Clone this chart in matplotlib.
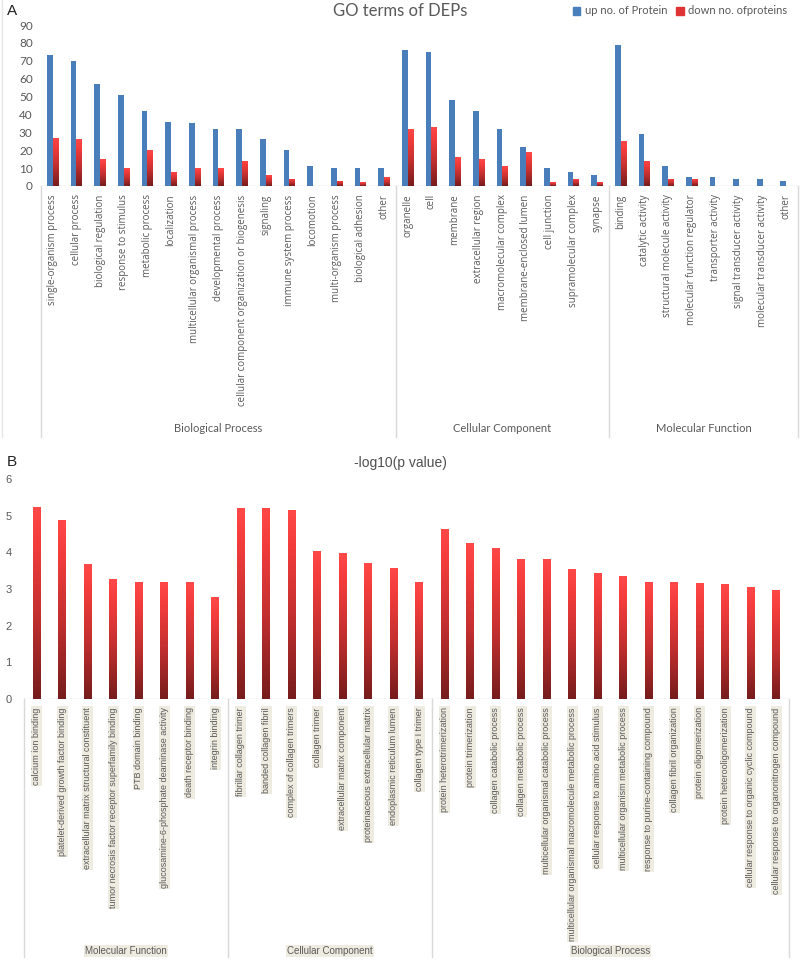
import matplotlib
matplotlib.use('Agg')

import numpy as np
import matplotlib.pyplot as plt
from matplotlib.colors import LinearSegmentedColormap
from matplotlib.transforms import blended_transform_factory
from matplotlib.lines import Line2D

# ---- Panel A data: GO terms of DEPs ----
bp_terms = ['single-organism process', 'cellular process', 'biological regulation',
            'response to stimulus', 'metabolic process', 'localization',
            'multicellular organismal process', 'developmental process',
            'cellular component organization or biogenesis', 'signaling',
            'immune system process', 'locomotion', 'multi-organism process',
            'biological adhesion', 'other']
bp_up = [73, 70, 57, 51, 42, 36, 35, 32, 32, 26, 20, 11, 10, 10, 10]
bp_down = [27, 26, 15, 10, 20, 8, 10, 10, 14, 6, 4, 0, 3, 2, 5]

cc_terms = ['organelle', 'cell', 'membrane', 'extracellular region',
            'macromolecular complex', 'membrane-enclosed lumen', 'cell junction',
            'supramolecular complex', 'synapse']
cc_up = [76, 75, 48, 42, 32, 22, 10, 8, 6]
cc_down = [32, 33, 16, 15, 11, 19, 2, 4, 2]

mf_terms = ['binding', 'catalytic activity', 'structural molecule activity',
            'molecular function regulator', 'transporter activity',
            'signal transducer activity', 'molecular transducer activity', 'other']
mf_up = [79, 29, 11, 5, 5, 4, 4, 3]
mf_down = [25, 14, 4, 4, 0, 0, 0, 0]

groups_a = ['Biological Process', 'Cellular Component', 'Molecular Function']

# ---- Panel B data: -log10(p value) ----
b_mf_terms = ['calcium ion binding', 'platelet-derived growth factor binding',
              'extracellular matrix structural constituent',
              'tumor necrosis factor receptor superfamily binding', 'PTB domain binding',
              'glucosamine-6-phosphate deaminase activity', 'death receptor binding',
              'integrin binding']
b_mf_vals = [5.25, 4.88, 3.68, 3.28, 3.19, 3.19, 3.19, 2.78]

b_cc_terms = ['fibrillar collagen trimer', 'banded collagen fibril',
              'complex of collagen trimers', 'collagen trimer',
              'extracellular matrix component', 'proteinaceous extracellular matrix',
              'endoplasmic reticulum lumen', 'collagen type I trimer']
b_cc_vals = [5.22, 5.22, 5.15, 4.04, 3.97, 3.71, 3.58, 3.18]

b_bp_terms = ['protein heterotrimerization', 'protein trimerization',
              'collagen catabolic process', 'collagen metabolic process',
              'multicellular organismal catabolic process',
              'multicellular organismal macromolecule metabolic process',
              'cellular response to amino acid stimulus',
              'multicellular organism metabolic process',
              'response to purine-containing compound', 'collagen fibril organization',
              'protein oligomerization', 'protein heterooligomerization',
              'cellular response to organic cyclic compound',
              'cellular response to organonitrogen compound']
b_bp_vals = [4.64, 4.25, 4.13, 3.82, 3.82, 3.54, 3.43, 3.35, 3.19, 3.18, 3.16, 3.13,
             3.05, 2.96]

groups_b = ['Molecular Function', 'Cellular Component', 'Biological Process']

W, H = 800, 964
BLUE = '#4A7EBB'
TEXT = '#595959'
LINE = '#D9D9D9'
BEIGE = '#EEECE1'
FONT_A = 'Lato'
FONT_A_TICK = 'Open Sans'
FONT_B = 'Liberation Sans'

red_cmap = LinearSegmentedColormap.from_list(
    'redgrad', [(0, '#761c1c'), (0.45, '#c53030'), (0.8, '#f23c3c'), (1, '#ff4848')])
grad = np.linspace(0, 1, 256).reshape(-1, 1)


def px_axes(fig, left, top, right, bottom):
    """Add axes from pixel box (top-left origin)."""
    return fig.add_axes([left / W, 1 - bottom / H, (right - left) / W, (bottom - top) / H])


def gradient_bars(ax, xs, heights, width):
    bars = ax.bar(xs, heights, width, color='none', edgecolor='none', zorder=2)
    for bar in bars:
        h = bar.get_height()
        if h <= 0:
            continue
        x0 = bar.get_x()
        im = ax.imshow(grad, extent=[x0, x0 + width, 0, h], origin='lower',
                       aspect='auto', cmap=red_cmap, zorder=3, interpolation='bilinear')
        im.set_clip_path(bar)


def group_decor(ax, sizes, names, y_bottom, y_label, font, fontsize, label_bg=None):
    trans = blended_transform_factory(ax.transData, ax.transAxes)
    edges = np.concatenate([[0], np.cumsum(sizes)]) - 0.5
    for e in edges:
        ax.add_line(Line2D([e, e], [0, y_bottom], transform=trans, color=LINE,
                           lw=1.0, clip_on=False))
    for k, name in enumerate(names):
        mid = (edges[k] + edges[k + 1]) / 2
        kw = {}
        if label_bg:
            kw['bbox'] = dict(facecolor=label_bg, edgecolor='none', pad=1.0)
        ax.text(mid, y_label, name, transform=trans, ha='center', va='center',
                fontsize=fontsize, color=TEXT, family=font, **kw)


fig = plt.figure(figsize=(W / 100, H / 100), dpi=100)

# ---------------- Panel A ----------------
terms_a = bp_terms + cc_terms + mf_terms
up_a = bp_up + cc_up + mf_up
down_a = bp_down + cc_down + mf_down
n_a = len(terms_a)

axA = px_axes(fig, 41, 25, 798, 186)
xa = np.arange(n_a)
bw = 0.24
axA.bar(xa - bw / 2, up_a, bw, color=BLUE, zorder=2)
gradient_bars(axA, xa + bw / 2, down_a, bw)
axA.set_xlim(-0.5, n_a - 0.5)
axA.set_ylim(0, 90)
axA.set_yticks(np.arange(0, 91, 10))
axA.set_xticks(xa)
axA.set_xticklabels(terms_a, rotation=90, fontsize=7, color=TEXT, family=FONT_A_TICK)
for lab in axA.get_yticklabels():
    lab.set_family(FONT_A)
axA.tick_params(axis='y', length=0, labelsize=8.5, labelcolor=TEXT, pad=6)
axA.tick_params(axis='x', length=0, pad=6)
for s in axA.spines.values():
    s.set_visible(False)
axA.axhline(0, color=LINE, lw=1.0, zorder=1)
hA = 186 - 25
group_decor(axA, [len(bp_terms), len(cc_terms), len(mf_terms)], groups_a,
            -(437 - 186) / hA, -(428 - 186) / hA, FONT_A, 8)

fig.text(400 / W, 1 - 11 / H, 'GO terms of DEPs', ha='center', va='center',
         fontsize=12, color=TEXT, family=FONT_A)
fig.text(7 / W, 1 - 11 / H, 'A', ha='left', va='center', fontsize=11,
         color='#222222', family=FONT_B)
axA.legend(handles=[plt.Rectangle((0, 0), 1, 1, color=BLUE),
                    plt.Rectangle((0, 0), 1, 1, color='#e03434')],
           labels=['up no. of Protein', 'down no. ofproteins'],
           loc='center', bbox_to_anchor=(680 / W, 1 - 11 / H),
           bbox_transform=fig.transFigure, ncol=2, frameon=False,
           prop={'family': FONT_A, 'size': 8}, labelcolor=TEXT,
           handlelength=0.7, handleheight=0.7, handletextpad=0.4, columnspacing=0.8)
fig.add_artist(Line2D([2 / W, 2 / W], [1 - 0 / H, 1 - 437 / H], color='#E6E6E6', lw=1.0))

# ---------------- Panel B ----------------
terms_b = b_mf_terms + b_cc_terms + b_bp_terms
vals_b = b_mf_vals + b_cc_vals + b_bp_vals
n_b = len(terms_b)

axB = px_axes(fig, 24, 479, 789, 699)
xb = np.arange(n_b)
gradient_bars(axB, xb, vals_b, 0.31)
axB.set_xlim(-0.5, n_b - 0.5)
axB.set_ylim(0, 6)
axB.set_yticks(np.arange(0, 7, 1))
axB.set_xticks(xb)
axB.set_xticklabels(terms_b, rotation=90, fontsize=6.5, color=TEXT, family=FONT_B,
                    va='top')
for lab in axB.get_xticklabels():
    lab.set_bbox(dict(facecolor=BEIGE, edgecolor='none', pad=0.8))
for lab in axB.get_yticklabels():
    lab.set_family(FONT_B)
axB.tick_params(axis='y', length=0, labelsize=8, labelcolor=TEXT, pad=9)
axB.tick_params(axis='x', length=0, pad=6)
for s in axB.spines.values():
    s.set_visible(False)
axB.axhline(0, color=LINE, lw=1.0, zorder=1)
hB = 699 - 479
group_decor(axB, [len(b_mf_terms), len(b_cc_terms), len(b_bp_terms)], groups_b,
            -(957 - 699) / hB, -(951 - 699) / hB, FONT_B, 7, label_bg=BEIGE)

fig.text(400 / W, 1 - 463 / H, '-log10(p value)', ha='center', va='center',
         fontsize=10, color='#505050', family=FONT_B)
fig.text(7 / W, 1 - 462 / H, 'B', ha='left', va='center', fontsize=11,
         color='#222222', family=FONT_B)

fig.savefig('out.png', dpi=100, facecolor='white')
